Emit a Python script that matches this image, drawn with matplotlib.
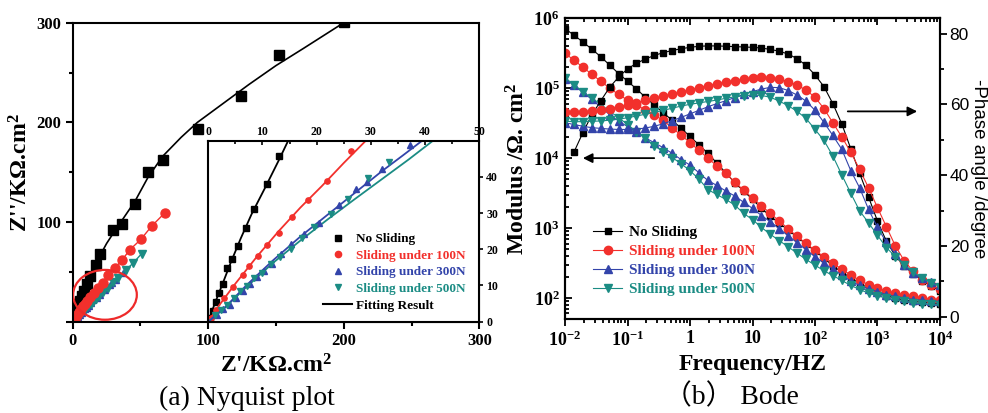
import numpy as np
import matplotlib.pyplot as plt
from matplotlib.patches import Ellipse
from matplotlib.lines import Line2D
from matplotlib.ticker import MultipleLocator, FixedLocator, FuncFormatter, LogLocator, NullFormatter

# ---------------- Nyquist data (KOhm.cm2) ----------------
nyq_none_x = [200, 152.5, 124, 92.3, 66.4, 55.6, 46, 36.2, 30, 20.1, 17.2, 13, 10.9, 8.4,
              6.9, 5.5, 4.4, 3.4, 2.65, 2.0, 1.4, 0.8, 0.3]
nyq_none_y = [301, 268, 226, 193.6, 162, 150.5, 117.9, 97.7, 92, 68.4, 57.3, 45.8, 37.9, 31.1,
              25.8, 21, 17.3, 14.7, 10.3, 8, 5.5, 3, 1]
nyq_100_x = [68.2, 58.3, 50.2, 42.3, 36.2, 31.2, 26.3, 22, 18.4, 15.5, 13, 10.9, 9.1, 7.6,
             6.4, 4.5, 3, 1.5, 0.5]
nyq_100_y = [109.5, 96, 82.5, 72.4, 61.6, 54, 47, 38.9, 33.5, 28.8, 24.5, 21.1, 18, 15.4,
             13, 9.5, 6.5, 3.2, 1]
nyq_300_x = [37.2, 32, 29.2, 27.2, 24.1, 20.4, 17.6, 15.2, 13.4, 11.8, 10.3, 9, 7.7, 6.5,
             5.2, 4, 2.8, 1.6]
nyq_300_y = [48.7, 42.1, 38.6, 36.5, 32.3, 27.2, 24.1, 21.5, 18.6, 15.9, 14.1, 12.3, 10.4, 8.4,
             6.6, 4.7, 3.4, 1.9]
nyq_500_x = [50.9, 44.7, 39.3, 33.4, 29.5, 25.7, 22.6, 19.5, 17.3, 15.2, 13.3, 11.5, 9.9, 8.4,
             7.1, 5.9, 4.7, 3.5, 2.4, 1.3]
nyq_500_y = [68.4, 59.0, 52.0, 44.2, 39.6, 34.0, 29.8, 26.2, 23.2, 20.1, 17.9, 16.0, 13.5, 12.0,
             9.8, 8.4, 6.5, 4.7, 3.2, 1.8]

# fitting curves
fit_none_x = [0, 1.2, 2.6, 4.2, 6, 8, 10.5, 13, 14.6, 17.2, 20, 25, 30, 37, 46, 55.6, 66.4,
              80, 92, 110, 130, 150, 170, 185, 200]
fit_none_y = [0, 5, 10.3, 16.5, 23, 29.7, 37, 44.5, 49.5, 57.5, 66, 78.5, 89, 103, 121, 145, 166,
              185, 200, 218, 238, 257, 274, 287, 300]
fit_100_x = [0, 2, 5, 9, 13, 17, 21, 25, 29.1, 36, 42, 50, 58, 68]
fit_100_y = [0, 4.5, 10.5, 18, 25, 31.5, 37.5, 43.8, 50, 61, 72, 82.5, 95.5, 109.5]
fit_300_x = [0, 3, 7, 12, 17, 22, 27, 32, 36, 39.5]
fit_300_y = [0, 3.8, 10, 17, 23.5, 29.5, 35.5, 41.5, 46, 50]
fit_500_x = [0, 3, 7, 12, 17, 22, 27, 32, 37, 41.5]
fit_500_y = [0, 3.8, 9.5, 16.3, 22.4, 28.2, 33.8, 39.3, 44.8, 50]

# ---------------- Bode data ----------------
freq = [0.01, 0.0139, 0.0193, 0.0268, 0.0373, 0.0518, 0.072,
        0.1, 0.139, 0.193, 0.268, 0.373, 0.518, 0.72,
        1, 1.39, 1.93, 2.68, 3.73, 5.18, 7.2,
        10, 13.9, 19.3, 26.8, 37.3, 51.8, 72,
        100, 139, 193, 268, 373, 518, 720,
        1000, 1390, 1930, 2680, 3730, 5180, 7200, 10000]

mod_none = [708000, 575000, 457000, 363000, 282000, 214000, 162000,
            126000, 97700, 74100, 57500, 44700, 34700, 26900,
            20400, 15500, 11700, 8510, 6170, 4470, 3390,
            2570, 1910, 1480, 1170, 933, 741, 589,
            468, 372, 288, 234, 195, 162, 138,
            120, 107, 100, 93, 89, 87, 85, 83]
mod_100 = [316000, 251000, 200000, 158000, 126000, 100000, 81300,
           67600, 57500, 49000, 41700, 34700, 26900, 21400,
           16600, 12900, 10000, 7760, 6030, 4570, 3470,
           2690, 2090, 1620, 1260, 977, 759, 603,
           479, 389, 316, 257, 214, 178, 155,
           138, 126, 117, 110, 105, 100, 95, 93]
mod_300 = [135000, 110000, 87100, 69200, 53700, 41700, 33900,
           28200, 23400, 19500, 16600, 14100, 11700, 9550,
           7940, 6170, 4790, 4070, 3390, 2880, 2340,
           1910, 1510, 1230, 977, 776, 617, 490,
           389, 316, 257, 214, 174, 151, 135,
           123, 112, 105, 100, 95, 93, 91, 89]
mod_500 = [141000, 112000, 89100, 72400, 58900, 46800, 38000,
           30200, 24000, 19100, 15100, 12300, 10200, 8320,
           6610, 5010, 3550, 3020, 2570, 2140, 1620,
           1320, 1020, 813, 661, 537, 437, 355,
           295, 245, 209, 178, 151, 132, 117,
           107, 100, 93, 89, 85, 83, 81, 79]

ph_none = [np.nan, 46.5, 52.0, 57.0, 61.0, 64.8, 67.7,
           70.0, 71.6, 72.8, 73.8, 74.6, 75.2, 75.7,
           76.1, 76.4, 76.5, 76.5, 76.4, 76.3, 76.2,
           76.1, 75.9, 75.5, 75.0, 74.2, 72.9, 71.0,
           68.3, 65.0, 60.2, 54.5, 47.5, 40.5, 33.8,
           27.0, 21.3, 17.2, 14.3, 12.1, 10.2, 8.7, 7.3]
ph_100 = [57.8, 57.8, 57.9, 58.0, 58.3, 58.8, 59.3,
          59.9, 60.5, 61.1, 61.7, 62.3, 62.9, 63.5,
          64.1, 64.7, 65.3, 65.8, 66.3, 66.7, 67.1,
          67.4, 67.6, 67.5, 67.1, 66.4, 65.4, 64.0,
          62.0, 58.8, 54.8, 50.8, 46.5, 41.6, 36.4,
          30.8, 25.4, 20.0, 15.8, 12.8, 10.5, 9.0, 7.8]
ph_300 = [54.8, 54.3, 53.8, 53.4, 53.2, 53.0, 52.9,
          52.9, 53.0, 53.3, 53.8, 54.5, 55.4, 56.3,
          57.3, 58.3, 59.3, 60.2, 61.0, 61.9, 62.8,
          63.6, 64.3, 64.8, 64.7, 63.9, 62.6, 60.9,
          58.3, 54.9, 51.2, 47.3, 41.3, 36.4, 30.3,
          25.2, 21.0, 17.7, 14.6, 12.3, 10.8, 9.7, 8.9]
ph_500 = [55.2, 55.1, 55.1, 55.2, 55.3, 55.5, 55.8,
          56.2, 56.7, 57.2, 57.7, 58.3, 58.9, 59.5,
          60.0, 60.4, 60.8, 61.2, 61.7, 62.1, 62.4,
          62.6, 62.5, 62.0, 60.9, 59.6, 58.0, 56.0,
          52.9, 49.8, 45.4, 40.1, 34.9, 29.9, 26.5,
          23.0, 19.5, 17.0, 14.7, 12.6, 10.9, 9.6, 8.5]

labels = ['No Sliding', 'Sliding under 100N', 'Sliding under 300N', 'Sliding under 500N']
colors = ['#000000', '#f2302c', '#3344aa', '#1b8c84']
markers = ['s', 'o', '^', 'v']

# ---------------- style ----------------
plt.rcParams['font.family'] = ['Liberation Serif', 'Noto Sans CJK SC']
plt.rcParams['font.weight'] = 'bold'
plt.rcParams['mathtext.fontset'] = 'custom'
plt.rcParams['mathtext.rm'] = 'Liberation Serif:bold'
plt.rcParams['mathtext.bf'] = 'Liberation Serif:bold'
plt.rcParams['mathtext.it'] = 'Liberation Serif:bold:italic'
plt.rcParams['axes.linewidth'] = 1.5
plt.rcParams['axes.unicode_minus'] = False

fig = plt.figure(figsize=(9.88, 4.13), dpi=100)

# ================= (a) Nyquist =================
ax1 = fig.add_axes([0.0736, 0.221, 0.4115, 0.724])
ax1.set_xlim(0, 300)
ax1.set_ylim(0, 300)

ax1.plot(fit_none_x, fit_none_y, color='k', lw=1.2)
ax1.plot(nyq_none_x, nyq_none_y, 's', color='k', ms=6.5)
ax1.plot(fit_300_x, fit_300_y, color=colors[2], lw=1)
ax1.plot(nyq_300_x, nyq_300_y, '^', color=colors[2], ms=5)
ax1.plot(nyq_500_x, nyq_500_y, '-v', color=colors[3], ms=6, lw=1)
ax1.plot(nyq_100_x, nyq_100_y, '-o', color=colors[1], ms=6.5, lw=1)

ax1.add_patch(Ellipse((23.8, 27), 47, 50, fill=False, color='#ee2a2a', lw=1.6, zorder=4))

ax1.xaxis.set_major_locator(MultipleLocator(100))
ax1.xaxis.set_minor_locator(MultipleLocator(50))
ax1.yaxis.set_major_locator(MultipleLocator(100))
ax1.yaxis.set_minor_locator(MultipleLocator(50))
ax1.yaxis.set_major_formatter(FuncFormatter(lambda v, p: '' if v == 0 else '%d' % v))
ax1.tick_params(which='both', direction='out', width=1.5, labelsize=12, top=False, right=False)
ax1.tick_params(which='major', length=5, pad=3)
ax1.tick_params(which='minor', length=3)
ax1.set_xlabel("Z'/KΩ.cm$^2$", fontsize=17, fontweight='bold', labelpad=4)
ax1.set_ylabel("Z''/KΩ.cm$^2$", fontsize=17, fontweight='bold', labelpad=3)

# inset
axin = ax1.inset_axes([100, 0, 200, 181.8], transform=ax1.transData)
axin.set_xlim(0, 50)
axin.set_ylim(0, 50)
axin.plot(fit_none_x, fit_none_y, color='k', lw=1.3)
axin.plot(nyq_none_x, nyq_none_y, 's', color='k', ms=3.8)
axin.plot(fit_100_x, fit_100_y, color=colors[1], lw=1.3)
axin.plot(nyq_100_x, nyq_100_y, 'o', color=colors[1], ms=3.8)
axin.plot(fit_500_x, fit_500_y, color=colors[3], lw=1.3)
axin.plot(fit_300_x, fit_300_y, color=colors[2], lw=1.3)
axin.plot(nyq_300_x, nyq_300_y, '^', color=colors[2], ms=4.2)
axin.plot(nyq_500_x, nyq_500_y, 'v', color=colors[3], ms=4.2)
axin.xaxis.tick_top()
axin.yaxis.tick_right()
axin.xaxis.set_major_locator(MultipleLocator(10))
axin.xaxis.set_minor_locator(MultipleLocator(5))
axin.yaxis.set_major_locator(FixedLocator([0, 10, 20, 30, 40]))
axin.tick_params(axis='x', which='both', direction='in', labelsize=8.5, pad=2, width=1.2)
axin.tick_params(axis='x', which='major', length=3)
axin.tick_params(axis='x', which='minor', length=2)
axin.tick_params(axis='y', direction='out', labelsize=8.5, length=3, pad=2, width=1.2)

handles = [Line2D([], [], ls='none', marker=m, color=c, ms=4.5) for m, c in zip(markers, colors)]
handles.append(Line2D([], [], color='k', lw=1.5))
leg = axin.legend(handles, labels + ['Fitting Result'], loc='lower left',
                  bbox_to_anchor=(0.4, 0.02), frameon=False, fontsize=9.5,
                  handlelength=2.2, handletextpad=0.25, labelspacing=0.33, borderpad=0)
for t, c in zip(leg.get_texts(), colors + ['k']):
    t.set_color(c)

# ================= (b) Bode =================
axb = fig.add_axes([0.5719, 0.2276, 0.3795, 0.7281])
axb.set_xscale('log')
axb.set_yscale('log')
axb.set_xlim(0.01, 1e4)
axb.set_ylim(50, 1e6)

mods = [mod_none, mod_100, mod_300, mod_500]
phs = [ph_none, ph_100, ph_300, ph_500]
sizes = [5, 6, 6, 6]
lines = []
for m, c, mk, s, lab in zip(mods, colors, markers, sizes, labels):
    ln, = axb.plot(freq, m, marker=mk, color=c, ms=s, lw=0.8, mec=c, label=lab)
    lines.append(ln)

axp = axb.twinx()
axp.set_ylim(-0.65, 84.3)
for p, c, mk, s in zip(phs, colors, markers, sizes):
    axp.plot(freq, p, marker=mk, color=c, ms=s, lw=0.8, mec=c)

xlab = {-2: '$10^{-2}$', -1: '$10^{-1}$', 0: '1', 1: '10', 2: '$10^2$', 3: '$10^3$', 4: '$10^4$'}
axb.xaxis.set_major_locator(LogLocator(base=10, numticks=12))
axb.xaxis.set_minor_locator(LogLocator(base=10, subs=np.arange(2, 10), numticks=12))
axb.xaxis.set_major_formatter(FuncFormatter(lambda v, p: xlab.get(int(round(np.log10(v))), '')))
axb.xaxis.set_minor_formatter(NullFormatter())
axb.yaxis.set_major_locator(LogLocator(base=10, numticks=12))
axb.yaxis.set_minor_locator(LogLocator(base=10, subs=np.arange(2, 10), numticks=12))
axb.yaxis.set_major_formatter(FuncFormatter(lambda v, p: '$10^{%d}$' % int(round(np.log10(v)))))
axb.yaxis.set_minor_formatter(NullFormatter())
axb.tick_params(axis='x', which='both', direction='out', width=1.3, labelsize=13, pad=3)
axb.tick_params(axis='x', which='major', length=5)
axb.tick_params(axis='x', which='minor', length=3)
axb.tick_params(axis='y', which='both', direction='in', width=1.3, labelsize=13, pad=4)
axb.tick_params(axis='y', which='major', length=5)
axb.tick_params(axis='y', which='minor', length=3)

secx = axb.secondary_xaxis('top')
secx.xaxis.set_major_locator(LogLocator(base=10, numticks=12))
secx.xaxis.set_minor_locator(LogLocator(base=10, subs=np.arange(2, 10), numticks=12))
secx.xaxis.set_major_formatter(NullFormatter())
secx.xaxis.set_minor_formatter(NullFormatter())
secx.tick_params(which='both', direction='in', width=1.3)
secx.tick_params(which='major', length=5)
secx.tick_params(which='minor', length=3)

axp.yaxis.set_major_locator(MultipleLocator(20))
axp.yaxis.set_minor_locator(MultipleLocator(10))
axp.tick_params(which='both', direction='out', width=1.3, labelsize=12.5, pad=2)
axp.tick_params(which='major', length=5)
axp.tick_params(which='minor', length=3)
for t in axp.get_yticklabels():
    t.set_fontfamily('Liberation Sans')
    t.set_fontweight('normal')
axp.set_ylabel('-Phase angle /degree', family='Liberation Sans', fontweight='normal',
               fontsize=13.5, rotation=270, va='bottom', labelpad=1)

axb.set_xlabel('Frequency/HZ', fontsize=17, fontweight='bold', labelpad=3)
axb.set_ylabel('Modulus /Ω. cm$^2$', fontsize=17, fontweight='bold', labelpad=3)

axb.annotate('', xy=(0.0174, 1e4), xytext=(0.296, 1e4),
             arrowprops=dict(arrowstyle='-|>', color='k', lw=1.3, mutation_scale=14))
axp.annotate('', xy=(4786, 58), xytext=(302, 58),
             arrowprops=dict(arrowstyle='-|>', color='k', lw=1.3, mutation_scale=14))

legb = axp.legend(lines, labels, loc='lower left', bbox_to_anchor=(0.055, 0.05),
                  frameon=False, fontsize=11, handlelength=1.9, handletextpad=0.45,
                  labelspacing=0.35, borderpad=0)
for t, c in zip(legb.get_texts(), colors):
    t.set_color(c)

# captions
fig.text(0.2495, 0.02, '(a) Nyquist plot', fontsize=20, fontweight='normal', ha='center', va='baseline')
fig.text(0.740, 0.02, '（b） Bode', fontsize=20, fontweight='normal', ha='center', va='baseline')

fig.savefig('out.png', dpi=100)
